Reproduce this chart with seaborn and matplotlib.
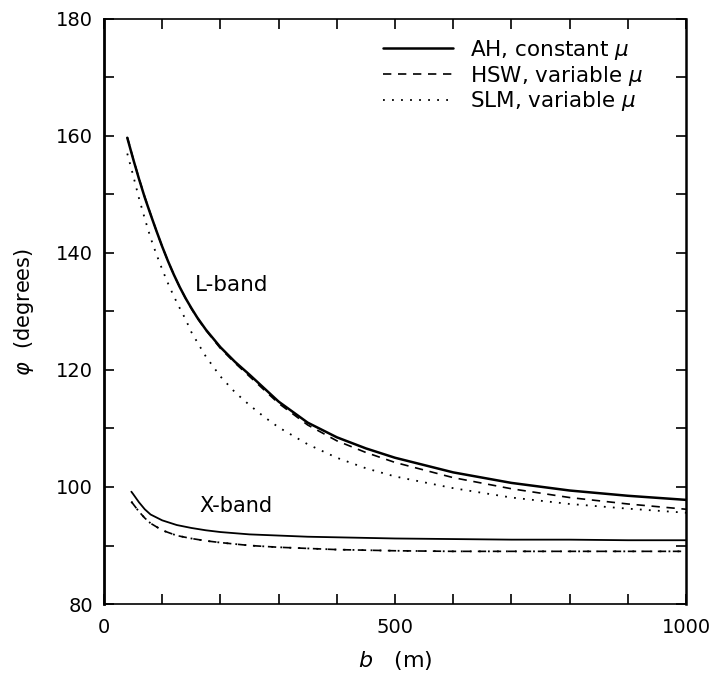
import matplotlib
matplotlib.use("Agg")
import matplotlib.pyplot as plt
import seaborn as sns
import pandas as pd
from matplotlib.ticker import FixedLocator, MultipleLocator

# ---- data ----
b_L = [40, 50, 60, 70, 80, 90, 100, 110, 120, 130, 140, 150, 160, 175, 200, 225, 250, 275, 300, 350, 400,
       450, 500, 600, 700, 800, 900, 1000]
L_AH = [159.7, 156.1, 152.7, 149.5, 146.6, 143.8, 141.1, 138.6, 136.3, 134.2, 132.3, 130.6, 129.0, 126.9,
        123.9, 121.4, 119.2, 116.9, 114.6, 111.0, 108.5, 106.6, 105.0, 102.5, 100.7, 99.4, 98.5, 97.8]
L_HSW = [159.8, 156.2, 152.8, 149.6, 146.7, 143.8, 141.1, 138.6, 136.3, 134.2, 132.3, 130.5, 128.9, 126.8,
         123.7, 121.2, 118.9, 116.6, 114.3, 110.6, 107.9, 105.9, 104.2, 101.6, 99.7, 98.2, 97.1, 96.2]
L_SLM = [157.0, 153.3, 149.4, 145.9, 142.6, 139.8, 137.2, 134.8, 132.6, 130.6, 128.7, 126.5, 124.8, 122.3,
         118.9, 116.2, 114.0, 112.0, 110.2, 107.3, 105.0, 103.2, 101.8, 99.8, 98.2, 97.1, 96.3, 95.6]

b_X = [47, 50, 60, 70, 80, 100, 125, 150, 175, 200, 250, 300, 350, 400, 500, 600, 700, 800, 900, 1000]
X_AH = [99.2, 98.8, 97.4, 96.2, 95.3, 94.3, 93.5, 93.0, 92.6, 92.3, 91.9, 91.7, 91.5, 91.4, 91.2, 91.1,
        91.0, 91.0, 90.9, 90.9]
X_HSW = [97.5, 97.1, 95.8, 94.7, 93.8, 92.6, 91.7, 91.2, 90.8, 90.5, 90.0, 89.7, 89.5, 89.3, 89.1, 89.0,
         89.0, 89.0, 89.0, 89.0]
X_SLM = [97.5, 97.1, 95.8, 94.7, 93.8, 92.6, 91.7, 91.2, 90.8, 90.5, 90.0, 89.7, 89.5, 89.3, 89.1, 89.0,
         89.0, 89.0, 89.0, 89.0]

legend_labels = ["AH, constant $\\mu$", "HSW, variable $\\mu$", "SLM, variable $\\mu$"]
x_ticks = [0, 500, 1000]
y_ticks = [80, 100, 120, 140, 160, 180]

sns.set_style("ticks")
plt.rcParams["font.family"] = ["DejaVu Sans"]
plt.rcParams["mathtext.fontset"] = "dejavusans"
for key in ["text.color", "axes.labelcolor", "xtick.color", "ytick.color", "axes.edgecolor"]:
    plt.rcParams[key] = "black"

fig = plt.figure(figsize=(7.17, 6.81), dpi=100)
ax = fig.add_axes([104 / 717, 1 - 604 / 681, (686 - 104) / 717, (604 - 19) / 681])

dash = (0, (5, 4))
dot = (0, (1, 4))

sns.lineplot(x=b_L, y=L_AH, ax=ax, color="black", label=legend_labels[0], linestyle="-", linewidth=1.8)
sns.lineplot(x=b_L, y=L_HSW, ax=ax, color="black", label=legend_labels[1], linestyle=dash, linewidth=1.2)
sns.lineplot(x=b_L, y=L_SLM, ax=ax, color="black", label=legend_labels[2], linestyle=dot, linewidth=1.3)
sns.lineplot(x=b_X, y=X_AH, ax=ax, color="black", legend=False, linestyle="-", linewidth=1.3)
sns.lineplot(x=b_X, y=X_HSW, ax=ax, color="black", legend=False, linestyle=dash, linewidth=1.2)
sns.lineplot(x=b_X, y=X_SLM, ax=ax, color="black", legend=False, linestyle=dot, linewidth=1.3)

ax.set_xlim(0, 1000)
ax.set_ylim(80, 180)
ax.xaxis.set_major_locator(FixedLocator(x_ticks))
ax.xaxis.set_minor_locator(MultipleLocator(100))
ax.yaxis.set_major_locator(FixedLocator(y_ticks))
ax.yaxis.set_minor_locator(MultipleLocator(10))
ax.tick_params(which="both", direction="in", top=True, right=True, length=7, width=1.2,
               labelsize=14, color="black", labelcolor="black")
ax.tick_params(axis="x", which="major", pad=10)
ax.tick_params(axis="y", which="major", pad=8)
for side, sp in ax.spines.items():
    sp.set_linewidth(1.2)
    sp.set_color("black")
ax.spines["left"].set_linewidth(2.0)
ax.spines["right"].set_linewidth(1.8)

ax.set_xlabel("$b$   (m)", fontsize=16, labelpad=9, color="black")
ax.set_ylabel("$\\varphi$  (degrees)", fontsize=15, labelpad=14, color="black")

ax.text(157, 134.6, "L-band", fontsize=15.5, va="center", ha="left", color="black")
ax.text(164, 96.7, "X-band", fontsize=15, va="center", ha="left", color="black")

handles, labels = ax.get_legend_handles_labels()
leg = ax.legend(handles, labels, loc="upper right", frameon=False, fontsize=15.5, handlelength=3.25,
                handletextpad=0.8, labelspacing=0.08, borderaxespad=0.0, borderpad=0.0,
                bbox_to_anchor=((643 - 104) / 582, 1 - (38 - 19) / 585), labelcolor="black")

fig.savefig("out.png", dpi=100)
